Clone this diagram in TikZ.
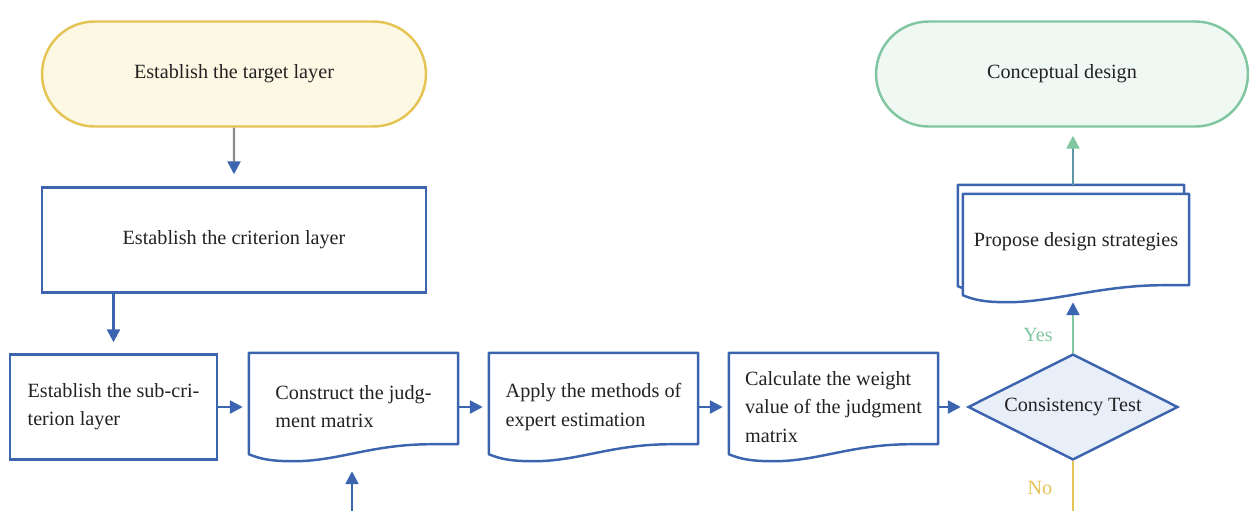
\documentclass[tikz,border=0pt]{standalone}
\usepackage{fontspec}
\setmainfont{Liberation Serif}
\usetikzlibrary{shapes.misc,shapes.geometric,arrows.meta,calc,backgrounds}
\definecolor{flowblue}{RGB}{61,100,175}
\definecolor{targetgold}{RGB}{228,196,84}
\definecolor{targetfill}{RGB}{253,248,228}
\definecolor{designgreen}{RGB}{128,198,160}
\definecolor{designfill}{RGB}{240,248,244}
\definecolor{testfill}{RGB}{233,239,249}
\definecolor{textgray}{RGB}{34,34,34}
\tikzstyle{every node}=[font=\fontsize{11.5}{16}\selectfont, text=textgray]
\tikzstyle{terminal}=[rounded rectangle, minimum width=7.68cm, minimum height=2.1cm, inner sep=0pt]
\tikzstyle{box}=[draw=flowblue, minimum width=4.14cm, minimum height=2.1cm, inner sep=0pt]
\tikzstyle{doc}=[minimum width=4.14cm, minimum height=2.12cm, inner sep=0pt]
\tikzstyle{docline}=[draw=flowblue, fill=white, line width=1.4pt, line join=round]
\tikzstyle{test}=[diamond, aspect=2, draw=flowblue, fill=testfill, minimum width=4.2cm, minimum height=2.12cm, inner sep=0pt]
\tikzset{tipped/.style={-{Triangle[length=7.4pt,width=7.4pt,color=#1]}}}
% document outline: node, x offset, y offset
\newcommand\docoutline[3]{($(#1.north west)+(#2,#3)$) -- ($(#1.north east)+(#2,#3)$)
  -- ($(#1.south east)+(#2,#3-17)$) -- ($(#1.south east)+(#2-27,#3-17)$)
  .. controls +(-60,0) and +(45,0) .. ($(#1.south west)+(#2+45,#3)$)
  .. controls +(-22,0) and +(12,5) .. ($(#1.south west)+(#2,#3-7)$) -- cycle}

\begin{document}
\begin{tikzpicture}[x=0.02cm, y=-0.02cm, line width=1.4pt]
\useasboundingbox (0,0) rectangle (1249,511);
% Start and end
    \node[terminal, draw=targetgold, fill=targetfill] (target) at (234,74) {Establish the target layer};
    \node[terminal, draw=designgreen, fill=designfill, minimum width=7.44cm] (concept) at (1062,74) {Conceptual design};
% Layers
    \node[box, minimum width=7.68cm] (criterion) at (234,240) {Establish the criterion layer};
    \node[box, align=left] (sub) at (113.5,407) {Establish the sub-cri-\\terion layer};
% Documents
    \node[doc, align=left] (judg) at (353.5,407) {Construct the judg-\\ment matrix};
    \node[doc, align=left] (expert) at (593.5,407) {Apply the methods of\\expert estimation};
    \node[doc, align=left] (weight) at (833.5,407) {Calculate the weight\\value of the judgment\\matrix};
    \node[doc, minimum width=4.48cm, text depth=10pt] (propose) at (1076,248) {Propose design strategies};
    \begin{scope}[on background layer]
    \foreach \n in {judg,expert,weight}
        \draw[docline] \docoutline{\n}{0}{0};
    \draw[docline] \docoutline{propose}{-5}{-9};
    \draw[docline] \docoutline{propose}{0}{0};
    \end{scope}
% Decision
    \node[test] (test) at (1073,407) {Consistency Test};
% Connectors
    \draw[tipped=flowblue, draw=targetgold!45!flowblue, shorten >=0.24cm] (target) -- (criterion);
    \draw[tipped=flowblue, draw=flowblue, shorten >=0.22cm] (criterion.south -| sub.north) -- (sub.north);
    \foreach \a/\b in {sub/judg,judg/expert,expert/weight,weight/test}
        \draw[tipped=flowblue, draw=flowblue, shorten >=0.12cm] (\a.east) -- (\b.west);
    \draw[tipped=flowblue, draw=designgreen] (test.north) -- (test.north |- propose.south);
    \node[text=designgreen] (yes) at (1038,335) {Yes};
    \coordinate (backtop) at ($(propose.north)+(-3,-9)$);
    \draw[tipped=designgreen, draw=flowblue!50!designgreen, shorten >=0.16cm] (backtop) -- (backtop |- concept.south);
    \coordinate (noend) at (1073,511);
    \draw[targetgold] (test.south) -- (noend);
    \node[text=targetgold] (no) at (1040,488) {No};
    \coordinate (loopin) at (352,511);
    \draw[tipped=flowblue, draw=flowblue, shorten >=0.2cm] (loopin) -- (loopin |- judg.south);
\end{tikzpicture}
\end{document}
